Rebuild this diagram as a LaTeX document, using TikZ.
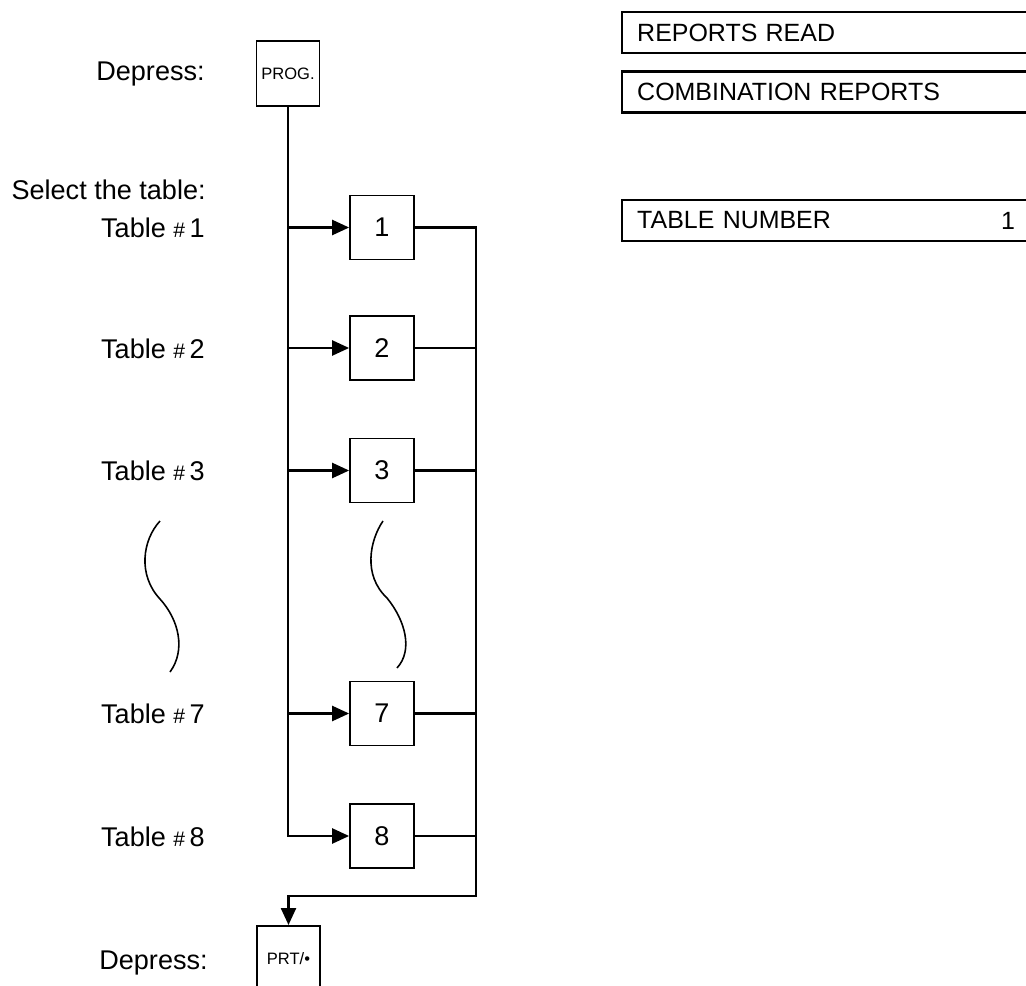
\documentclass[tikz,border=0pt]{standalone}
\usepackage{fontspec}
\setmainfont{Liberation Sans}
\usetikzlibrary{arrows.meta, positioning, calc}
\tikzset{
  keybox/.style={draw, line width=1pt, minimum width=1.26cm, minimum height=1.3cm,
    inner sep=0pt, font=\fontsize{9.4}{10}\selectfont},
  numbox/.style={draw, line width=1pt, minimum size=1.28cm, inner sep=0pt,
    font=\fontsize{15.4}{17}\selectfont},
  lbl/.style={anchor=base east, inner sep=0pt, font=\fontsize{15.4}{17}\selectfont},
  disp/.style={draw, line width=1.4pt, anchor=west, minimum width=8.8cm, minimum height=0.82cm,
    text width=8.2cm, inner xsep=0.3cm, inner ysep=0pt, align=left, font=\fontsize{14.2}{16}\selectfont},
  wire/.style={line width=1.4pt},
  arr/.style={wire, -{Triangle[length=0.34cm, width=0.3cm]}},
  squig/.style={line width=0.9pt}
}

\begin{document}
\begin{tikzpicture}
\useasboundingbox (0,0) rectangle (20.52,-19.72);

% ================= KEYS =================
\node[keybox] (prog) at (5.76,-1.47) {PROG.};
\node[lbl] (dep1) at (4.10,-1.62) {Depress:};
\node[lbl] (sel) at (4.12,-4.00) {Select the table:};

\foreach \n/\y in {1/-4.55,2/-6.96,3/-9.41,7/-14.27,8/-16.72}{
  \node[numbox] (b\n) at (7.64,\y) {\n};
  \node[lbl] (t\n) at (4.10,\y-0.2) {Table {\fontsize{12}{12}\selectfont\#}\,\n};
}

\node[keybox, anchor=north] (prt) at (5.77,-18.50) {PRT/•};
\node[lbl] (dep2) at (4.16,-19.38) {Depress:};

% trunk into the table keys
\draw[arr] (prog.south) |- (b8.west);
\foreach \n in {1,2,3,7}
  \draw[arr] (prog.south |- b\n.west) -- (b\n.west);

% return bus to PRT
\coordinate (join) at (9.52,-17.92);
\draw[arr] (b1.east) -| (join) -| (prt.north);
\foreach \n in {2,3,7,8}
  \draw[wire] (b\n.east) -- (b\n.east -| join);

% breaks in the sequence
\draw[squig] (3.20,-10.42) .. controls (2.85,-10.8) and (2.75,-11.5) .. (3.20,-11.98)
  .. controls (3.58,-12.4) and (3.72,-13.0) .. (3.40,-13.44);
\draw[squig] (7.66,-10.42) .. controls (7.40,-10.8) and (7.25,-11.5) .. (7.74,-11.96)
  .. controls (8.10,-12.4) and (8.27,-13.0) .. (7.94,-13.36);

% ================= DISPLAY =================
\node[disp] (rread) at (12.42,-0.65) {REPORTS READ};
\node[disp] (rcomb) at (12.42,-1.84) {COMBINATION REPORTS};
\node[disp] (rtab) at (12.42,-4.41) {TABLE NUMBER};
\node[inner sep=0pt, font=\fontsize{14.2}{16}\selectfont] (rtabno) at (20.16,-4.41) {1};

\end{tikzpicture}
\end{document}
